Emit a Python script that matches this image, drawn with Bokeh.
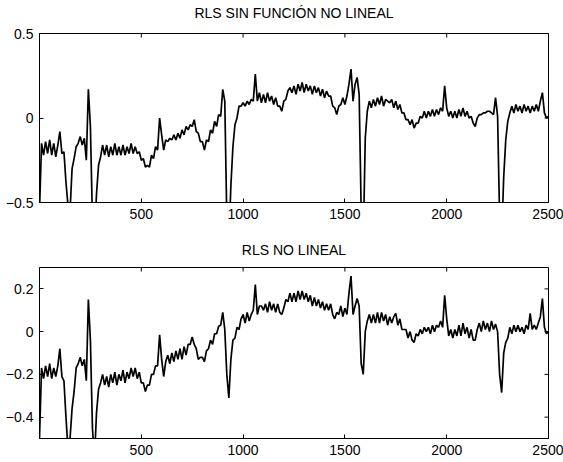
import math

from bokeh.plotting import figure
from bokeh.layouts import column
from bokeh.models import FixedTicker, LinearAxis, Range1d
from bokeh.embed import file_html
from bokeh.resources import INLINE

# Sample index (every 10th sample of the 2500-sample run)
samples = list(range(0, 2501, 10))

# Error signal of the plain RLS filter (no nonlinear function)
rls_lineal = [
    -0.55, -0.15, -0.22, -0.14, -0.21, -0.13, -0.22, -0.15, -0.23, -0.16,
    -0.08, -0.21, -0.20, -0.38, -0.52, -0.55, -0.30, -0.24, -0.17, -0.15,
    -0.11, -0.16, -0.12, -0.25, 0.17, -0.05, -0.60, -0.70, -0.45, -0.28,
    -0.23, -0.16, -0.22, -0.16, -0.23, -0.17, -0.22, -0.15, -0.22, -0.17,
    -0.22, -0.16, -0.22, -0.17, -0.21, -0.15, -0.21, -0.17, -0.21, -0.20,
    -0.25, -0.24, -0.29, -0.28, -0.29, -0.22, -0.24, -0.17, -0.19, 0.00,
    -0.10, -0.19, -0.13, -0.14, -0.12, -0.13, -0.10, -0.13, -0.09, -0.12,
    -0.07, -0.10, -0.05, -0.07, -0.04, -0.05, -0.01, -0.08, -0.09, -0.14,
    -0.14, -0.19, -0.13, -0.14, -0.07, -0.09, -0.02, -0.05, 0.02, 0.01,
    0.17, 0.10, -0.60, -0.75, -0.40, -0.17, -0.04, 0.00, 0.07, 0.07,
    0.09, 0.07, 0.10, 0.08, 0.11, 0.10, 0.26, 0.10, 0.15, 0.09,
    0.14, 0.09, 0.15, 0.10, 0.13, 0.08, 0.12, 0.07, 0.07, 0.04,
    0.10, 0.11, 0.16, 0.18, 0.15, 0.19, 0.14, 0.20, 0.16, 0.21,
    0.15, 0.20, 0.16, 0.19, 0.14, 0.19, 0.15, 0.18, 0.13, 0.17,
    0.12, 0.16, 0.13, 0.13, 0.07, 0.06, 0.02, 0.07, 0.08, 0.12,
    0.08, 0.13, 0.20, 0.29, 0.10, 0.20, 0.24, 0.14, -0.55, -0.75,
    -0.12, 0.04, 0.10, 0.06, 0.11, 0.07, 0.12, 0.08, 0.13, 0.07,
    0.11, 0.10, 0.09, 0.11, 0.06, 0.10, 0.05, 0.08, 0.03, 0.03,
    -0.01, -0.01, -0.04, -0.01, -0.06, -0.03, -0.03, 0.01, 0.00, 0.04,
    0.00, 0.04, 0.01, 0.05, 0.01, 0.05, 0.02, 0.06, 0.04, 0.19,
    0.06, 0.01, 0.04, 0.00, 0.04, 0.00, 0.05, 0.01, 0.06, 0.01,
    0.04, 0.00, 0.01, -0.03, -0.05, 0.00, 0.02, 0.02, 0.03, 0.03,
    0.04, 0.04, 0.03, 0.02, 0.12, 0.01, -0.60, -0.70, -0.35, -0.13,
    -0.02, 0.03, 0.07, 0.03, 0.08, 0.04, 0.07, 0.03, 0.08, 0.04,
    0.07, 0.03, 0.07, 0.04, 0.08, 0.04, 0.10, 0.15, 0.03, 0.00,
    0.01,
]

# Error signal of the nonlinear RLS filter
rls_no_lineal = [
    -0.50, -0.17, -0.22, -0.16, -0.21, -0.15, -0.22, -0.17, -0.21, -0.16,
    -0.08, -0.21, -0.23, -0.40, -0.55, -0.50, -0.36, -0.28, -0.17, -0.15,
    -0.12, -0.16, -0.13, -0.23, 0.15, -0.04, -0.45, -0.60, -0.38, -0.27,
    -0.24, -0.20, -0.25, -0.21, -0.26, -0.20, -0.24, -0.19, -0.25, -0.20,
    -0.23, -0.18, -0.24, -0.19, -0.22, -0.17, -0.21, -0.17, -0.22, -0.19,
    -0.24, -0.24, -0.28, -0.25, -0.25, -0.20, -0.20, -0.16, -0.16, -0.015,
    -0.13, -0.21, -0.14, -0.11, -0.15, -0.10, -0.14, -0.09, -0.13, -0.08,
    -0.13, -0.07, -0.11, -0.06, -0.06, -0.025, -0.06, -0.08, -0.13, -0.12,
    -0.12, -0.14, -0.09, -0.08, -0.04, -0.06, -0.01, -0.01, 0.025, 0.03,
    0.09, 0.01, -0.20, -0.31, -0.13, -0.04, -0.03, 0.02, 0.01, 0.06,
    0.08, 0.04, 0.09, 0.05, 0.08, 0.10, 0.22, 0.08, 0.12, 0.12,
    0.10, 0.13, 0.09, 0.14, 0.10, 0.13, 0.09, 0.13, 0.09, 0.08,
    0.11, 0.15, 0.14, 0.18, 0.14, 0.18, 0.14, 0.19, 0.15, 0.19,
    0.15, 0.18, 0.14, 0.17, 0.12, 0.16, 0.12, 0.15, 0.11, 0.14,
    0.10, 0.13, 0.10, 0.13, 0.08, 0.06, 0.09, 0.08, 0.12, 0.07,
    0.11, 0.08, 0.18, 0.26, 0.08, 0.12, 0.155, 0.12, -0.15, -0.20,
    0.00, 0.05, 0.08, 0.04, 0.08, 0.04, 0.09, 0.04, 0.09, 0.05,
    0.08, 0.03, 0.07, 0.04, 0.07, 0.085, 0.03, 0.06, 0.01, 0.01,
    0.01, -0.03, 0.00, -0.04, -0.05, -0.01, -0.02, 0.01, -0.01, 0.02,
    0.00, 0.02, -0.01, 0.03, 0.00, 0.03, 0.02, 0.05, 0.02, 0.17,
    0.06, -0.02, 0.01, -0.03, 0.01, -0.02, 0.03, -0.02, 0.04, -0.01,
    0.02, -0.03, 0.01, -0.04, -0.04, 0.01, 0.04, 0.00, 0.05, 0.01,
    0.04, 0.00, 0.05, 0.01, 0.035, 0.00, -0.20, -0.285, -0.10, -0.05,
    -0.03, 0.02, -0.01, 0.03, 0.00, 0.03, 0.00, 0.02, -0.01, 0.03,
    0.01, 0.085, 0.01, 0.03, 0.01, 0.04, 0.07, 0.155, 0.02, -0.01,
    0.00,
]

x_ticks = [500, 1000, 1500, 2000, 2500]
top_y_ticks = [-0.5, 0, 0.5]
bottom_y_ticks = [-0.4, -0.2, 0, 0.2]

FONT = "Liberation Sans"
FONT_SIZE = "14px"


def style_axis(axis, ticks):
    axis.ticker = FixedTicker(ticks=ticks)
    axis.axis_line_color = "black"
    axis.major_tick_line_color = "black"
    axis.major_tick_in = 4
    axis.major_tick_out = 0
    axis.minor_tick_line_color = None
    axis.major_label_text_font = FONT
    axis.major_label_text_font_size = FONT_SIZE
    axis.major_label_text_color = "black"
    axis.major_label_standoff = 6


def title_axis(text, gap):
    # an empty axis on top of the box that only carries the panel title
    ax = LinearAxis(ticker=FixedTicker(ticks=[]), axis_label=text)
    ax.axis_line_color = None
    ax.major_tick_line_color = None
    ax.minor_tick_line_color = None
    ax.major_tick_in = 0
    ax.major_tick_out = 0
    ax.major_label_standoff = 0
    ax.axis_label_standoff = gap
    ax.axis_label_text_font = FONT
    ax.axis_label_text_font_size = FONT_SIZE
    ax.axis_label_text_font_style = "normal"
    ax.axis_label_text_color = "black"
    return ax


def panel(title, y, y_lo, y_hi, y_ticks, height, border_top, border_bottom,
          title_gap):
    p = figure(
        width=563, height=height,
        x_range=Range1d(0, 2500), y_range=Range1d(y_lo, y_hi),
        output_backend="svg", toolbar_location=None,
        min_border_left=39, min_border_right=15,
        min_border_top=border_top, min_border_bottom=border_bottom,
    )
    p.line(samples, y, line_color="black", line_width=1.7)

    p.grid.visible = False
    p.outline_line_color = "black"
    p.outline_line_width = 1
    p.background_fill_color = "white"
    p.border_fill_color = "white"

    style_axis(p.xaxis[0], x_ticks)
    style_axis(p.yaxis[0], y_ticks)

    # inward ticks on the top and right edges of the box
    p.scatter(x_ticks, [y_hi] * len(x_ticks), marker="dash", size=8,
              angle=math.pi / 2, line_color="black", line_width=1)
    p.scatter([2500] * len(y_ticks), y_ticks, marker="dash", size=8,
              line_color="black", line_width=1)

    p.add_layout(title_axis(title, title_gap), "above")
    return p


p_top = panel("RLS SIN FUNCIÓN NO LINEAL", rls_lineal, -0.5, 0.5,
              top_y_ticks, 231, 33, 29, 13)
p_bottom = panel("RLS NO LINEAL", rls_no_lineal, -0.5, 0.3,
                 bottom_y_ticks, 231, 36, 24, 10)

layout = column(p_top, p_bottom, spacing=0)

with open("out.html", "w") as f:
    f.write(file_html(layout, INLINE))
